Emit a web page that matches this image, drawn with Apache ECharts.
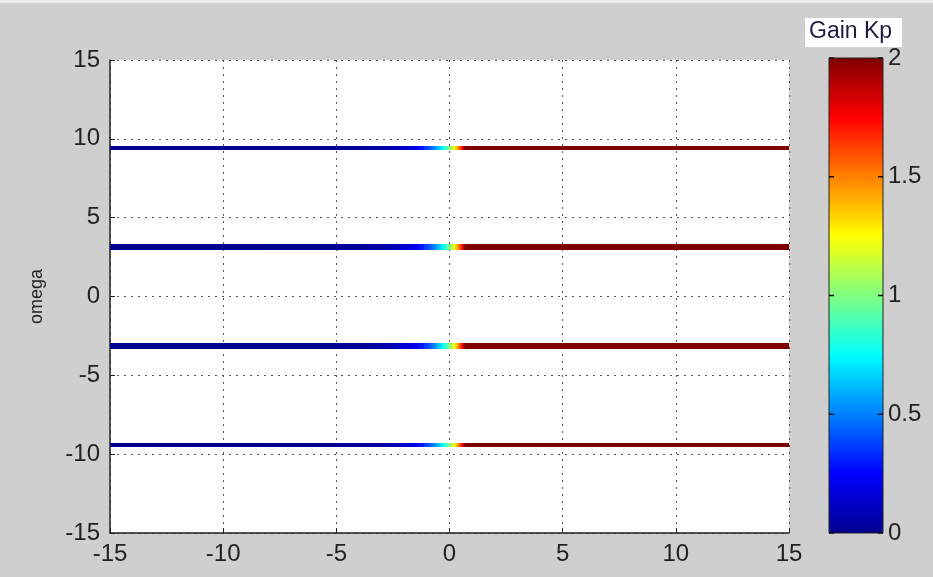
<!DOCTYPE html>
<html>
<head>
<meta charset="utf-8">
<script src="https://cdn.jsdelivr.net/npm/echarts@6/dist/echarts.min.js"></script>
<style>
html,body{margin:0;padding:0;background:#cfcfcf;}
#chart{width:933px;height:577px;}
</style>
</head>
<body>
<div id="chart"></div>
<script>
// ---- data ----
var xTicks = [-15, -10, -5, 0, 5, 10, 15];
var yTicks = [-15, -10, -5, 0, 5, 10, 15];
var cbTicks = [0, 0.5, 1, 1.5, 2];
var omegaLevels = [9.42, 3.14, -3.14, -9.42];
var sigma = [-15, -10, -6, -4, -3, -2.5, -2, -1.75, -1.5, -1.25, -1.0, -0.9, -0.8, -0.7, -0.6, -0.5, -0.4, -0.3, -0.2, -0.1, 0, 0.1, 0.2, 0.3, 0.4, 0.5, 0.6, 0.7, 1, 3, 8, 15];
var gainKp = [0.00, 0.00, 0.01, 0.02, 0.05, 0.08, 0.14, 0.17, 0.22, 0.29, 0.37, 0.41, 0.45, 0.50, 0.55, 0.61, 0.67, 0.74, 0.82, 0.90, 1.00, 1.10, 1.22, 1.35, 1.49, 1.65, 1.82, 2.00, 2.00, 2.00, 2.00, 2.00];

var FONT = '"Liberation Sans", Arial, sans-serif';
var chart = echarts.init(document.getElementById('chart'));

function makeRender(h) {
  return function (params, api) {
    var i = params.dataIndex;
    var s = api.value(0);
    var s0 = i > 0 ? (sigma[i - 1] + s) / 2 : s;
    var s1 = i < sigma.length - 1 ? (s + sigma[i + 1]) / 2 : s;
    var p0 = api.coord([s0, api.value(1)]);
    var p1 = api.coord([s1, api.value(1)]);
    return {
      type: 'rect',
      shape: { x: p0[0], y: p0[1] - h / 2, width: p1[0] - p0[0] + 0.6, height: h },
      style: { fill: api.visual('color') }
    };
  };
}
var widths = [4, 6, 6, 4];
var series = omegaLevels.map(function (w, k) {
  return {
    type: 'custom',
    xAxisIndex: 0, yAxisIndex: 0,
    renderItem: makeRender(widths[k]),
    encode: { x: 0, y: 1 },
    clip: true,
    data: sigma.map(function (s, i) { return [s, w, gainKp[i]]; }),
    z: 3
  };
});
// colorbar tick marks on both edges, placed through the colorbar axis scale
series.push({
  type: 'custom',
  xAxisIndex: 1, yAxisIndex: 1,
  zlevel: 1, z: 30,
  encode: { x: 0, y: 1 },
  data: cbTicks.map(function (t) { return [0, t]; }),
  renderItem: function (params, api) {
    var a = api.coord([0, api.value(1)]);
    var b = api.coord([1, api.value(1)]);
    var st = { stroke: '#111', lineWidth: 1.5 };
    return { type: 'group', children: [
      { type: 'line', shape: { x1: a[0], y1: a[1], x2: a[0] + 5, y2: a[1] }, style: st },
      { type: 'line', shape: { x1: b[0] - 5, y1: b[1], x2: b[0], y2: b[1] }, style: st }
    ] };
  }
});

var dotted = { show: true, lineStyle: { color: '#555', type: [2, 5], width: 1 } };
var axisLbl = { color: '#222', fontSize: 24, fontFamily: FONT };

chart.setOption({
  backgroundColor: '#cfcfcf',
  animation: false,
  grid: [
    { left: 110, top: 60, width: 679, height: 473, show: true, backgroundColor: '#ffffff', borderWidth: 0 },
    { left: 829, top: 58, width: 54, height: 475, show: true, borderColor: '#222', borderWidth: 1, backgroundColor: 'transparent', z: 20, zlevel: 1 }
  ],
  xAxis: [
    { type: 'value', gridIndex: 0, min: -15, max: 15, interval: 5,
      axisLine: { show: true, onZero: false, lineStyle: { color: '#222', width: 1.5 } },
      axisTick: { show: true, inside: true, length: 5, lineStyle: { color: '#222' } },
      axisLabel: Object.assign({ margin: 9, formatter: function (v) { return xTicks.indexOf(v) >= 0 ? String(v) : ''; } }, axisLbl),
      splitLine: dotted },
    { type: 'value', gridIndex: 1, min: 0, max: 1, show: false }
  ],
  yAxis: [
    { type: 'value', gridIndex: 0, min: -15, max: 15, interval: 5,
      name: 'omega', nameLocation: 'middle', nameRotate: 90, nameGap: 64,
      nameTextStyle: { color: '#222', fontSize: 18, fontFamily: FONT },
      axisLine: { show: true, onZero: false, lineStyle: { color: '#222', width: 1.5 } },
      axisTick: { show: true, inside: true, length: 5, lineStyle: { color: '#222' } },
      axisLabel: Object.assign({ margin: 10, formatter: function (v) { return yTicks.indexOf(v) >= 0 ? String(v) : ''; } }, axisLbl),
      splitLine: dotted },
    { type: 'value', gridIndex: 1, min: 0, max: 2, interval: 0.5, position: 'right',
      axisLine: { show: false },
      axisTick: { show: false },
      axisLabel: Object.assign({ margin: 5, formatter: function (v) { return cbTicks.indexOf(v) >= 0 ? String(v) : ''; } }, axisLbl),
      splitLine: { show: false }, z: 20, zlevel: 1 }
  ],
  visualMap: {
    type: 'continuous', min: 0, max: 2, dimension: 2,
    seriesIndex: [0, 1, 2, 3],
    left: 829, top: 58, itemWidth: 54, itemHeight: 475,
    padding: 0, calculable: false, hoverLink: false, z: 1,
    textStyle: { color: 'transparent' },
    inRange: { color: ['#00008f', '#0000ff', '#0080ff', '#00ffff', '#80ff80', '#ffff00', '#ff8000', '#ff0000', '#800000'] }
  },
  graphic: [
    { type: 'rect', left: 0, top: 0, shape: { width: 933, height: 3 }, style: { fill: '#ececec' } },
    { type: 'rect', left: 805, top: 18, shape: { width: 97, height: 29 }, style: { fill: '#ffffff' } },
    { type: 'text', left: 809, top: 20, style: { text: 'Gain Kp', fill: '#1c1c40', fontSize: 23, fontFamily: FONT } }
  ],
  series: series
});
</script>
</body>
</html>
